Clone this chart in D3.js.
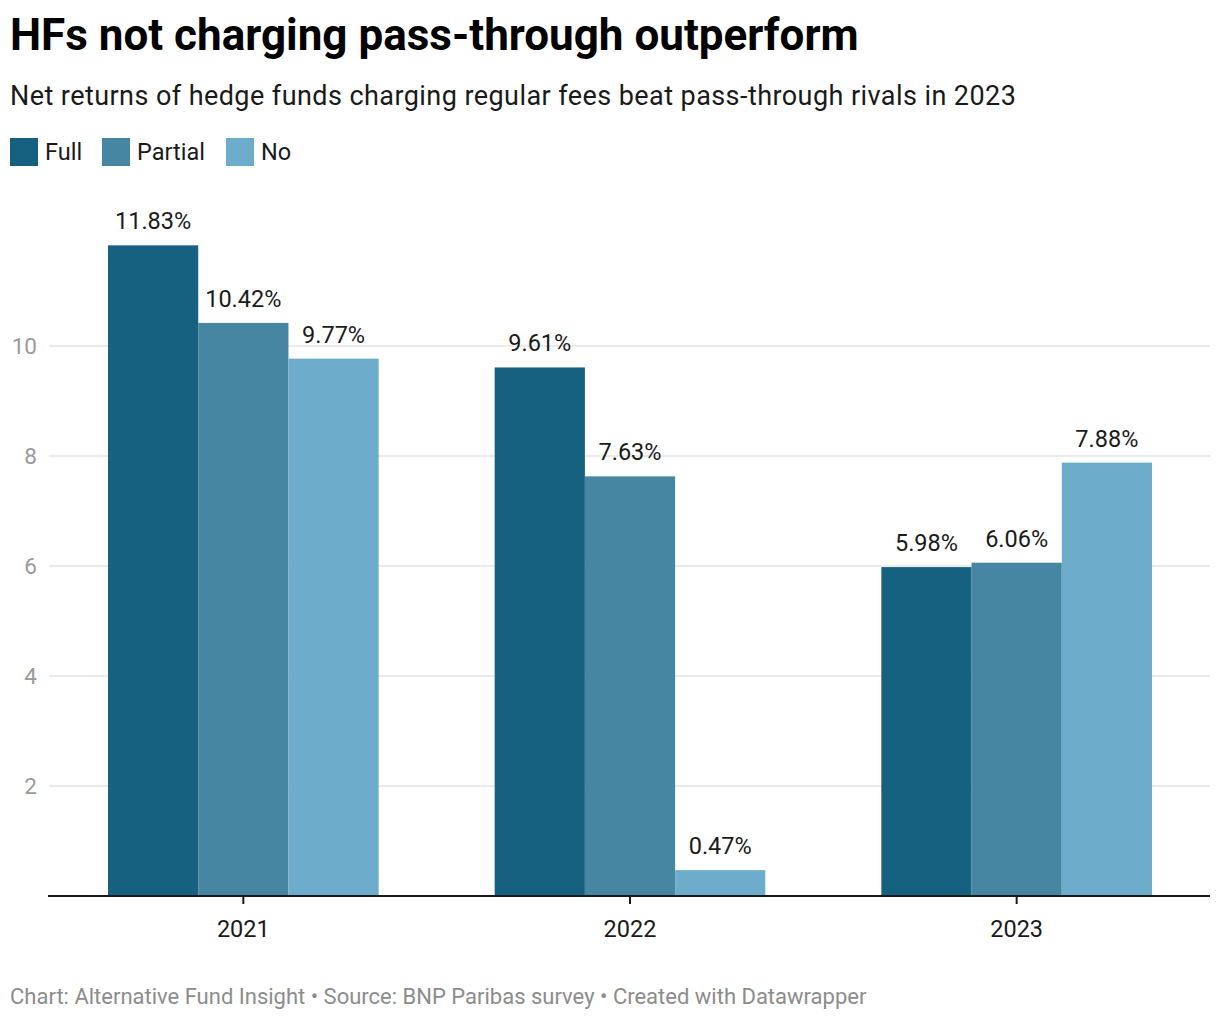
<!DOCTYPE html>
<html><head><meta charset="utf-8">
<script src="https://cdn.jsdelivr.net/npm/d3@7"></script>
<style>
body{margin:0;background:#fff;font-family:Roboto,"Noto Sans",sans-serif;}
</style></head>
<body>
<svg id="chart" width="1220" height="1020"></svg>
<script>
const years = ["2021","2022","2023"];
const seriesNames = ["Full","Partial","No"];
const fullValues = [11.83, 9.61, 5.98];
const partialValues = [10.42, 7.63, 6.06];
const noValues = [9.77, 0.47, 7.88];
const yTicks = [2,4,6,8,10];
const colors = ["#176180","#4686a3","#6dadcb"];

const seriesValues = [fullValues, partialValues, noValues];
const svg = d3.select("#chart");

svg.append("text").attr("x",10).attr("y",50).attr("font-size",44).attr("font-weight",700)
  .attr("fill","#000").text("HFs not charging pass-through outperform");
svg.append("text").attr("x",10).attr("y",105).attr("font-size",27).attr("letter-spacing",0.43).attr("fill","#1a1a1a")
  .text("Net returns of hedge funds charging regular fees beat pass-through rivals in 2023");

// legend
const legend = svg.append("g");
const legendX = [10, 102, 226];
seriesNames.forEach((n,i)=>{
  const g = legend.append("g").attr("transform",`translate(${legendX[i]},138)`);
  g.append("rect").attr("width",28).attr("height",28).attr("fill",colors[i]);
  g.append("text").attr("x",35).attr("y",22).attr("font-size",23.5).attr("fill","#1a1a1a").text(n);
});

const x0 = d3.scaleBand().domain(years).range([50,1210]).paddingInner(0.3).paddingOuter(0.15);
const x1 = d3.scaleBand().domain(seriesNames).range([0,x0.bandwidth()]);
const y = d3.scaleLinear().domain([0,10]).range([896,346]);

// grid
const grid = svg.append("g");
yTicks.forEach(t=>{
  grid.append("line").attr("x1",49).attr("x2",1210).attr("y1",y(t)).attr("y2",y(t))
    .attr("stroke","#e5e5e5").attr("stroke-width",1.5);
  grid.append("text").attr("x",37).attr("y",y(t)+8).attr("text-anchor","end")
    .attr("font-size",22.5).attr("fill","#9a9a9a").text(t);
});

// bars
years.forEach((yr,gi)=>{
  const g = svg.append("g").attr("transform",`translate(${x0(yr)},0)`);
  seriesNames.forEach((s,si)=>{
    const v = seriesValues[si][gi];
    g.append("rect").attr("x",x1(s)).attr("width",x1.bandwidth())
      .attr("y",y(v)).attr("height",y(0)-y(v)).attr("fill",colors[si]);
    g.append("text").attr("x",x1(s)+x1.bandwidth()/2).attr("y",y(v)-16)
      .attr("text-anchor","middle").attr("font-size",23.5).attr("fill","#1a1a1a")
      .text(v.toFixed(2)+"%");
  });
});

// x axis
const xAxis = d3.axisBottom(x0).tickSize(8).tickPadding(16);
const ax = svg.append("g").attr("transform",`translate(0,${y(0)})`).call(xAxis);
ax.select(".domain").attr("stroke","#1a1a1a").attr("stroke-width",2).attr("d","M48,0H1210");
ax.selectAll(".tick line").attr("stroke","#1a1a1a").attr("stroke-width",2);
ax.selectAll(".tick text").attr("font-size",23.5).attr("fill","#1a1a1a").attr("font-family","Roboto");

svg.append("text").attr("x",10).attr("y",1004).attr("font-size",22).attr("fill","#8c8c8c")
  .text("Chart: Alternative Fund Insight • Source: BNP Paribas survey • Created with Datawrapper");
</script>
</body></html>
